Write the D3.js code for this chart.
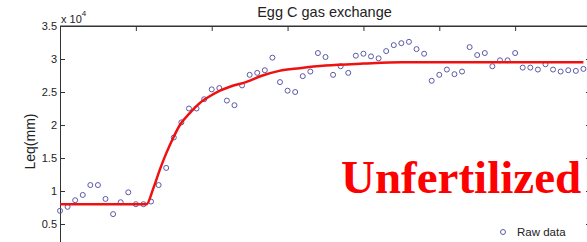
<!DOCTYPE html>
<html>
<head>
<meta charset="UTF-8" />
<title>Egg C gas exchange</title>
<style>
  body { margin: 0; background: #fff; }
  svg { display: block; }
  text { font-family: "Liberation Sans", Arial, sans-serif; fill: #222; }
</style>
</head>
<body>
<svg width="587" height="242"></svg>
<script src="https://d3js.org/d3.v7.min.js"></script>
<script>
// raw samples (x 10^4), one per time step
var rawData = [0.70, 0.76, 0.86, 0.94, 1.09, 1.09, 0.88, 0.65, 0.83, 0.98, 0.80, 0.80, 0.84,
  1.09, 1.35, 1.81, 2.04, 2.25, 2.25, 2.39, 2.54, 2.56, 2.37,
  2.30, 2.60, 2.76, 2.79, 2.83, 3.02, 2.65, 2.52, 2.50, 2.74, 2.81,
  3.09, 3.03, 2.76, 2.89, 2.79, 3.05, 3.08, 3.04, 3.01, 3.12, 3.21,
  3.24, 3.26, 3.15, 3.08, 2.67, 2.76, 2.84, 2.77, 2.81, 3.18, 3.06, 3.09,
  2.89, 2.98, 2.98, 3.09, 2.87, 2.87, 2.84, 2.92, 2.84, 2.81, 2.83, 2.82, 2.85];

// fitted curve
var fitT = [0, 11.4, 12.3, 13.15, 14.0, 14.9, 15.8, 17.1, 18.4, 19.8, 21.1, 22.4, 24.5, 26.7, 28.9, 31.6, 35, 40, 45, 69];
var fitV = [0.80, 0.80, 1.04, 1.32, 1.57, 1.80, 2.00, 2.18, 2.33, 2.44, 2.52, 2.58, 2.65, 2.75, 2.82, 2.86, 2.90, 2.93, 2.95, 2.95];

var yTicks = [0.5, 1, 1.5, 2, 2.5, 3, 3.5];
var xTicks = [0, 10, 20, 30, 40, 50, 60, 70];

var svg = d3.select("svg");

var x = d3.scaleLinear().domain([0, 70]).range([60, 591]);
var y = d3.scaleLinear().domain([0, 3.5]).range([257, 26]);

// frame
svg.append("line").attr("x1", 60).attr("x2", 591).attr("y1", 26).attr("y2", 26)
  .attr("stroke", "#333");

var yAxis = svg.append("g").attr("transform", "translate(60,0)")
  .call(d3.axisLeft(y).tickValues(yTicks).tickSizeInner(-5).tickSizeOuter(0).tickPadding(3)
    .tickFormat(d3.format("")));
yAxis.select(".domain").attr("stroke", "#333");
yAxis.selectAll(".tick line").attr("stroke", "#333");
yAxis.selectAll(".tick text").attr("font-size", "11px").attr("fill", "#222")
  .attr("font-family", "Liberation Sans, Arial, sans-serif");

var yAxisR = svg.append("g").attr("transform", "translate(591,0)")
  .call(d3.axisRight(y).tickValues(yTicks).tickSizeInner(-5).tickSizeOuter(0).tickFormat(""));
yAxisR.selectAll("line, path").attr("stroke", "#333");

var xAxisT = svg.append("g").attr("transform", "translate(0,26)")
  .call(d3.axisTop(x).tickValues(xTicks).tickSizeInner(-5).tickSizeOuter(0).tickFormat(""));
xAxisT.selectAll("line, path").attr("stroke", "#333");

// exponent label
var ex = svg.append("text").attr("x", 61).attr("y", 23).attr("font-size", "11px");
ex.append("tspan").text("x 10");
ex.append("tspan").attr("font-size", "8px").attr("dy", -7).text("4");

// title
svg.append("text").attr("x", 324.5).attr("y", 17).attr("text-anchor", "middle")
  .attr("font-size", "14.5px").text("Egg C gas exchange");

// y label
svg.append("text").attr("transform", "translate(35,141.5) rotate(-90)")
  .attr("text-anchor", "middle").attr("font-size", "14px").text("Leq(mm)");

// raw points
svg.append("g").selectAll("circle").data(rawData).enter().append("circle")
  .attr("cx", function (d, i) { return x(i); })
  .attr("cy", function (d) { return y(d); })
  .attr("r", 2.5)
  .attr("fill", "none")
  .attr("stroke", "#5a5aa6")
  .attr("stroke-width", 1);

// fit line
var line = d3.line()
  .x(function (d) { return x(d[0]); })
  .y(function (d) { return y(d[1]); })
  .curve(d3.curveMonotoneX);
svg.append("path").datum(d3.zip(fitT, fitV)).attr("d", line)
  .attr("fill", "none").attr("stroke", "#ee1111").attr("stroke-width", 2.5);

// big annotation
svg.append("text").attr("x", 341).attr("y", 193)
  .style("font-family", "'Liberation Serif', 'Times New Roman', serif")
  .style("fill", "#ff0000")
  .attr("font-weight", "bold").attr("font-size", "47px").text("Unfertilized");

// legend
svg.append("circle").attr("cx", 503).attr("cy", 232).attr("r", 2.5)
  .attr("fill", "none").attr("stroke", "#5a5aa6");
svg.append("text").attr("x", 517).attr("y", 236).attr("font-size", "11.5px").text("Raw data");
</script>
</body>
</html>
